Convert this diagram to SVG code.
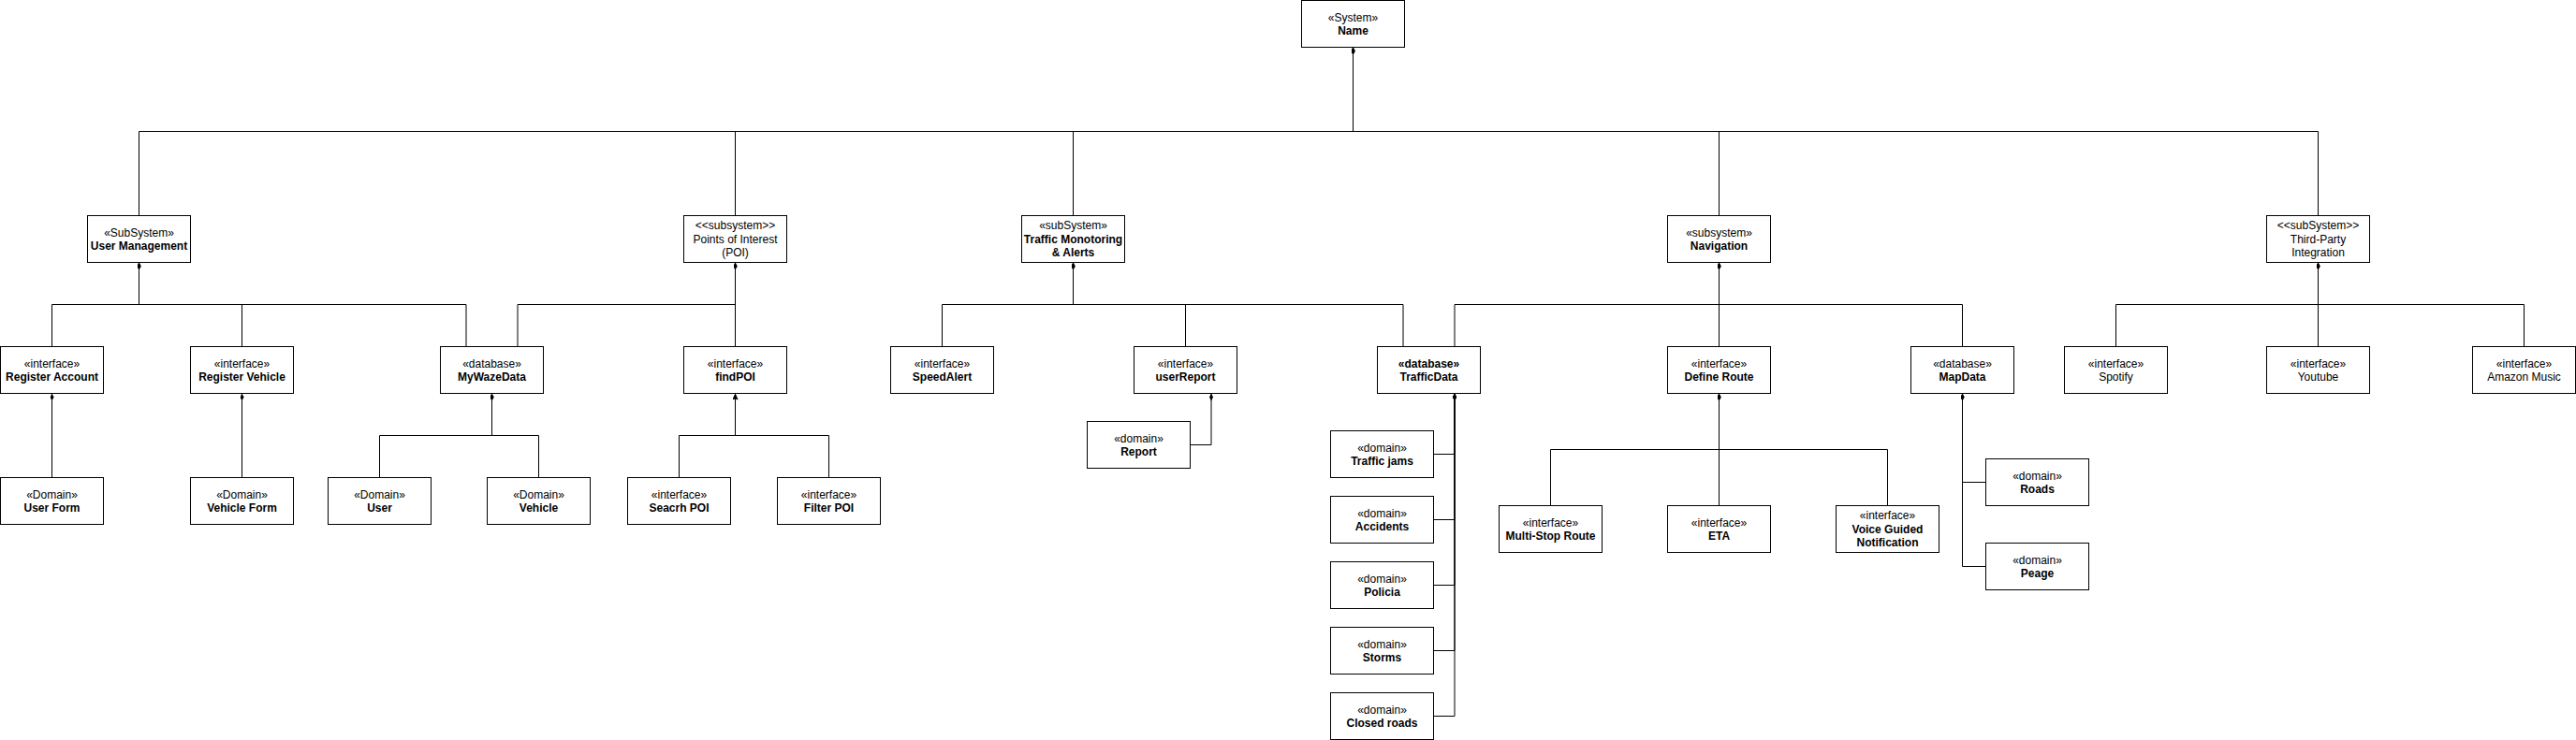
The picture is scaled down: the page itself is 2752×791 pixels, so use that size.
<svg xmlns="http://www.w3.org/2000/svg" width="2752" height="791" viewBox="0 0 2752 791">
<style>
.box{fill:#fff;stroke:#000;stroke-width:1}
.t{font-family:"Liberation Sans",Arial,Helvetica,sans-serif;font-size:12px;text-anchor:middle;fill:#000}
.b{font-weight:bold}
.c{fill:none;stroke:#000;stroke-width:1}
.d{marker-end:url(#dia)}
.a{marker-end:url(#arr)}
</style>
<defs>
<marker id="dia" viewBox="0 0 8 4" refX="8" refY="2" markerWidth="8" markerHeight="4" markerUnits="userSpaceOnUse" orient="auto">
<path d="M0,2 L4,0 L8,2 L4,4 Z" fill="#000"/>
</marker>
<marker id="arr" viewBox="0 0 7 6" refX="7" refY="3" markerWidth="7" markerHeight="6" markerUnits="userSpaceOnUse" orient="auto">
<path d="M0,0 L7,3 L0,6 L1.5,3 Z" fill="#000"/>
</marker>
</defs>
<rect x="0" y="0" width="2752" height="791" fill="#fff"/>

<g id="connectors">
<path class="c d" d="M148.5,230.5 V140.5 H1445.5 V50.5"/>
<path class="c d" d="M785.5,230.5 V140.5 H1445.5 V50.5"/>
<path class="c d" d="M1146.5,230.5 V140.5 H1445.5 V50.5"/>
<path class="c d" d="M1836.5,230.5 V140.5 H1445.5 V50.5"/>
<path class="c d" d="M2476.5,230.5 V140.5 H1445.5 V50.5"/>
<path class="c d" d="M55.5,370.5 V325.5 H148.5 V280.5"/>
<path class="c d" d="M258.5,370.5 V325.5 H148.5 V280.5"/>
<path class="c d" d="M498,370.5 V325.5 H148.5 V280.5"/>
<path class="c d" d="M553,370.5 V325.5 H785.5 V280.5"/>
<path class="c d" d="M785.5,370.5 V280.5"/>
<path class="c d" d="M1006.5,370.5 V325.5 H1146.5 V280.5"/>
<path class="c d" d="M1266.5,370.5 V325.5 H1146.5 V280.5"/>
<path class="c d" d="M1499,370.5 V325.5 H1146.5 V280.5"/>
<path class="c d" d="M1554,370.5 V325.5 H1836.5 V280.5"/>
<path class="c d" d="M1836.5,370.5 V280.5"/>
<path class="c d" d="M2096.5,370.5 V325.5 H1836.5 V280.5"/>
<path class="c d" d="M2260.5,370.5 V325.5 H2476.5 V280.5"/>
<path class="c d" d="M2476.5,370.5 V280.5"/>
<path class="c d" d="M2696.5,370.5 V325.5 H2476.5 V280.5"/>
<path class="c d" d="M55.5,510.5 V420.5"/>
<path class="c d" d="M258.5,510.5 V420.5"/>
<path class="c d" d="M405.5,510.5 V465.5 H525.5 V420.5"/>
<path class="c d" d="M575.5,510.5 V465.5 H525.5 V420.5"/>
<path class="c a" d="M725.5,510.5 V465.5 H785.5 V420.5"/>
<path class="c a" d="M885.5,510.5 V465.5 H785.5 V420.5"/>
<path class="c d" d="M1271.5,475.5 H1294 V420.5"/>
<path class="c d" d="M1531.5,485.5 H1554 V420.5"/>
<path class="c d" d="M1531.5,555.5 H1554 V420.5"/>
<path class="c d" d="M1531.5,625.5 H1554 V420.5"/>
<path class="c d" d="M1531.5,695.5 H1554 V420.5"/>
<path class="c d" d="M1531.5,765.5 H1554 V420.5"/>
<path class="c d" d="M1656.5,540.5 V480.5 H1836.5 V420.5"/>
<path class="c d" d="M1836.5,540.5 V420.5"/>
<path class="c d" d="M2016.5,540.5 V480.5 H1836.5 V420.5"/>
<path class="c d" d="M2121.5,515.5 H2096.5 V420.5"/>
<path class="c d" d="M2121.5,605.5 H2096.5 V420.5"/>
</g>

<g id="system"><rect class="box" x="1390.5" y="0.5" width="110" height="50"/><text class="t" x="1445.5" y="22.5">«System»</text><text class="t b" x="1445.5" y="36.9">Name</text></g>

<g id="user-management"><rect class="box" x="93.5" y="230.5" width="110" height="50"/><text class="t" x="148.5" y="252.5">«SubSystem»</text><text class="t b" x="148.5" y="266.9">User Management</text></g>
<g id="poi"><rect class="box" x="730.5" y="230.5" width="110" height="50"/><text class="t" x="785.5" y="245.3">&lt;&lt;subsystem&gt;&gt;</text><text class="t" x="785.5" y="259.7">Points of Interest</text><text class="t" x="785.5" y="274.1">(POI)</text></g>
<g id="traffic"><rect class="box" x="1091.5" y="230.5" width="110" height="50"/><text class="t" x="1146.5" y="245.3">«subSystem»</text><text class="t b" x="1146.5" y="259.7">Traffic Monotoring</text><text class="t b" x="1146.5" y="274.1">&amp; Alerts</text></g>
<g id="navigation"><rect class="box" x="1781.5" y="230.5" width="110" height="50"/><text class="t" x="1836.5" y="252.5">«subsystem»</text><text class="t b" x="1836.5" y="266.9">Navigation</text></g>
<g id="third-party"><rect class="box" x="2421.5" y="230.5" width="110" height="50"/><text class="t" x="2476.5" y="245.3">&lt;&lt;subSystem&gt;&gt;</text><text class="t" x="2476.5" y="259.7">Third-Party</text><text class="t" x="2476.5" y="274.1">Integration</text></g>

<g id="register-account"><rect class="box" x="0.5" y="370.5" width="110" height="50"/><text class="t" x="55.5" y="392.5">«interface»</text><text class="t b" x="55.5" y="406.9">Register Account</text></g>
<g id="register-vehicle"><rect class="box" x="203.5" y="370.5" width="110" height="50"/><text class="t" x="258.5" y="392.5">«interface»</text><text class="t b" x="258.5" y="406.9">Register Vehicle</text></g>
<g id="mywazedata"><rect class="box" x="470.5" y="370.5" width="110" height="50"/><text class="t" x="525.5" y="392.5">«database»</text><text class="t b" x="525.5" y="406.9">MyWazeData</text></g>
<g id="findpoi"><rect class="box" x="730.5" y="370.5" width="110" height="50"/><text class="t" x="785.5" y="392.5">«interface»</text><text class="t b" x="785.5" y="406.9">findPOI</text></g>
<g id="speedalert"><rect class="box" x="951.5" y="370.5" width="110" height="50"/><text class="t" x="1006.5" y="392.5">«interface»</text><text class="t b" x="1006.5" y="406.9">SpeedAlert</text></g>
<g id="userreport"><rect class="box" x="1211.5" y="370.5" width="110" height="50"/><text class="t" x="1266.5" y="392.5">«interface»</text><text class="t b" x="1266.5" y="406.9">userReport</text></g>
<g id="trafficdata"><rect class="box" x="1471.5" y="370.5" width="110" height="50"/><text class="t b" x="1526.5" y="392.5">«database»</text><text class="t b" x="1526.5" y="406.9">TrafficData</text></g>
<g id="define-route"><rect class="box" x="1781.5" y="370.5" width="110" height="50"/><text class="t" x="1836.5" y="392.5">«interface»</text><text class="t b" x="1836.5" y="406.9">Define Route</text></g>
<g id="mapdata"><rect class="box" x="2041.5" y="370.5" width="110" height="50"/><text class="t" x="2096.5" y="392.5">«database»</text><text class="t b" x="2096.5" y="406.9">MapData</text></g>
<g id="spotify"><rect class="box" x="2205.5" y="370.5" width="110" height="50"/><text class="t" x="2260.5" y="392.5">«interface»</text><text class="t" x="2260.5" y="406.9">Spotify</text></g>
<g id="youtube"><rect class="box" x="2421.5" y="370.5" width="110" height="50"/><text class="t" x="2476.5" y="392.5">«interface»</text><text class="t" x="2476.5" y="406.9">Youtube</text></g>
<g id="amazon-music"><rect class="box" x="2641.5" y="370.5" width="110" height="50"/><text class="t" x="2696.5" y="392.5">«interface»</text><text class="t" x="2696.5" y="406.9">Amazon Music</text></g>

<g id="user-form"><rect class="box" x="0.5" y="510.5" width="110" height="50"/><text class="t" x="55.5" y="532.5">«Domain»</text><text class="t b" x="55.5" y="546.9">User Form</text></g>
<g id="vehicle-form"><rect class="box" x="203.5" y="510.5" width="110" height="50"/><text class="t" x="258.5" y="532.5">«Domain»</text><text class="t b" x="258.5" y="546.9">Vehicle Form</text></g>
<g id="user"><rect class="box" x="350.5" y="510.5" width="110" height="50"/><text class="t" x="405.5" y="532.5">«Domain»</text><text class="t b" x="405.5" y="546.9">User</text></g>
<g id="vehicle"><rect class="box" x="520.5" y="510.5" width="110" height="50"/><text class="t" x="575.5" y="532.5">«Domain»</text><text class="t b" x="575.5" y="546.9">Vehicle</text></g>
<g id="seacrh-poi"><rect class="box" x="670.5" y="510.5" width="110" height="50"/><text class="t" x="725.5" y="532.5">«interface»</text><text class="t b" x="725.5" y="546.9">Seacrh POI</text></g>
<g id="filter-poi"><rect class="box" x="830.5" y="510.5" width="110" height="50"/><text class="t" x="885.5" y="532.5">«interface»</text><text class="t b" x="885.5" y="546.9">Filter POI</text></g>
<g id="report"><rect class="box" x="1161.5" y="450.5" width="110" height="50"/><text class="t" x="1216.5" y="472.5">«domain»</text><text class="t b" x="1216.5" y="486.9">Report</text></g>
<g id="traffic-jams"><rect class="box" x="1421.5" y="460.5" width="110" height="50"/><text class="t" x="1476.5" y="482.5">«domain»</text><text class="t b" x="1476.5" y="496.9">Traffic jams</text></g>
<g id="accidents"><rect class="box" x="1421.5" y="530.5" width="110" height="50"/><text class="t" x="1476.5" y="552.5">«domain»</text><text class="t b" x="1476.5" y="566.9">Accidents</text></g>
<g id="policia"><rect class="box" x="1421.5" y="600.5" width="110" height="50"/><text class="t" x="1476.5" y="622.5">«domain»</text><text class="t b" x="1476.5" y="636.9">Policia</text></g>
<g id="storms"><rect class="box" x="1421.5" y="670.5" width="110" height="50"/><text class="t" x="1476.5" y="692.5">«domain»</text><text class="t b" x="1476.5" y="706.9">Storms</text></g>
<g id="closed-roads"><rect class="box" x="1421.5" y="740.5" width="110" height="50"/><text class="t" x="1476.5" y="762.5">«domain»</text><text class="t b" x="1476.5" y="776.9">Closed roads</text></g>
<g id="multi-stop-route"><rect class="box" x="1601.5" y="540.5" width="110" height="50"/><text class="t" x="1656.5" y="562.5">«interface»</text><text class="t b" x="1656.5" y="576.9">Multi-Stop Route</text></g>
<g id="eta"><rect class="box" x="1781.5" y="540.5" width="110" height="50"/><text class="t" x="1836.5" y="562.5">«interface»</text><text class="t b" x="1836.5" y="576.9">ETA</text></g>
<g id="voice-guided"><rect class="box" x="1961.5" y="540.5" width="110" height="50"/><text class="t" x="2016.5" y="555.3">«interface»</text><text class="t b" x="2016.5" y="569.7">Voice Guided</text><text class="t b" x="2016.5" y="584.1">Notification</text></g>
<g id="roads"><rect class="box" x="2121.5" y="490.5" width="110" height="50"/><text class="t" x="2176.5" y="512.5">«domain»</text><text class="t b" x="2176.5" y="526.9">Roads</text></g>
<g id="peage"><rect class="box" x="2121.5" y="580.5" width="110" height="50"/><text class="t" x="2176.5" y="602.5">«domain»</text><text class="t b" x="2176.5" y="616.9">Peage</text></g>
</svg>
